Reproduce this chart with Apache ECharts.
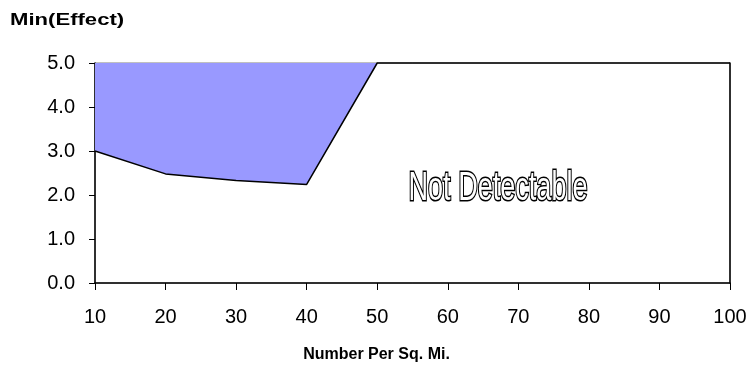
<!DOCTYPE html>
<html>
<head>
<meta charset="utf-8">
<script src="https://cdn.jsdelivr.net/npm/echarts@6/dist/echarts.min.js"></script>
<style>
  html, body { margin: 0; padding: 0; background: #fff; }
  #chart { width: 752px; height: 374px; }
</style>
</head>
<body>
<div id="chart"></div>
<script>
// Number of items per square mile and the minimum detectable effect
const density = [10, 20, 30, 40, 50, 60, 70, 80, 90, 100];
const minEffect = [3.0, 2.48, 2.33, 2.24, 5.0, 5.0, 5.0, 5.0, 5.0, 5.0];
const yTicks = [0, 1, 2, 3, 4, 5];
const regionLabel = 'Not Detectable';
const xTitle = 'Number Per Sq. Mi.';
const yTitle = 'Min(Effect)';

const FONT = '"Liberation Sans", Arial, sans-serif';
const chart = echarts.init(document.getElementById('chart'), null, { renderer: 'canvas' });

chart.setOption({
  animation: false,
  grid: {
    left: 95, right: 22, top: 63, bottom: 91,
    show: true, borderColor: '#808080', borderWidth: 1, backgroundColor: '#fff'
  },
  xAxis: {
    type: 'value',
    min: density[0], max: density[density.length - 1], interval: 10,
    axisLine: { show: true, onZero: false, lineStyle: { color: '#000', width: 1.5 } },
    axisTick: { show: true, length: 7, lineStyle: { color: '#000' } },
    splitLine: { show: false },
    axisLabel: { color: '#000', fontSize: 20, fontFamily: FONT, margin: 24 },
    name: xTitle,
    nameLocation: 'middle',
    nameGap: 64,
    nameTextStyle: { color: '#000', fontSize: 16, fontWeight: 'bold', fontFamily: FONT, padding: [0, 72, 0, 0] }
  },
  yAxis: [{
    type: 'value',
    min: yTicks[0], max: yTicks[yTicks.length - 1], interval: 1,
    axisLine: { show: true, lineStyle: { color: '#000', width: 1.5 } },
    axisTick: { show: true, length: 6, lineStyle: { color: '#000' } },
    splitLine: { show: false },
    axisLabel: { color: '#000', fontSize: 20, fontFamily: FONT, margin: 20,
      formatter: v => v.toFixed(1) }
  }, {
    type: 'value',
    position: 'right',
    min: yTicks[0], max: yTicks[yTicks.length - 1], interval: 1,
    axisLine: { show: true, lineStyle: { color: '#000', width: 1.5 } },
    axisTick: { show: false },
    axisLabel: { show: false },
    splitLine: { show: false }
  }],
  series: [{
    type: 'line',
    data: density.map((d, i) => [d, minEffect[i]]),
    symbol: 'none',
    clip: false,
    lineStyle: { color: '#000', width: 1.5 },
    areaStyle: { color: '#9999FF', opacity: 1, origin: 'end' },
    z: 3
  }],
  graphic: [{
    type: 'text',
    left: 10, top: 12,
    scaleX: 1.3,
    style: { text: yTitle, fill: '#000', font: 'bold 17px ' + FONT }
  }, {
    type: 'text',
    x: 498, y: 189,
    scaleX: 0.66,
    style: {
      text: regionLabel,
      font: '41px ' + FONT,
      fill: '#fff',
      stroke: '#000',
      lineWidth: 3,
      align: 'center',
      verticalAlign: 'middle'
    },
    z: 10
  }]
});
</script>
</body>
</html>
